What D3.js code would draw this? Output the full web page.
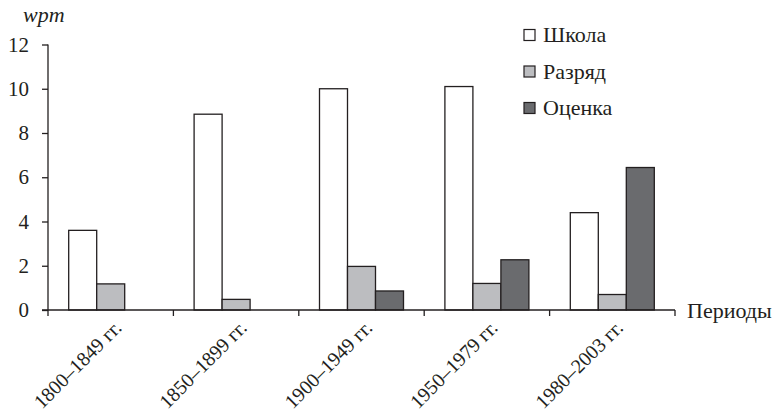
<!DOCTYPE html>
<html><head><meta charset="utf-8">
<script src="https://cdn.jsdelivr.net/npm/d3@7"></script>
<style>body{margin:0;background:#fff}svg{display:block}</style>
</head><body>
<svg id="c" width="778" height="417"></svg>
<script>
const categories = ["1800–1849 гг.", "1850–1899 гг.", "1900–1949 гг.", "1950–1979 гг.", "1980–2003 гг."];
const seriesNames = ["Школа", "Разряд", "Оценка"];
const shkola = [3.6, 8.85, 10.0, 10.1, 4.4];
const razryad = [1.18, 0.48, 1.97, 1.2, 0.7];
const otsenka = [0, 0, 0.86, 2.27, 6.44];
const yTicks = [0, 2, 4, 6, 8, 10, 12];
const colors = ["#ffffff", "#bcbdc0", "#6a6b6e"];

const FONT = '"Liberation Serif"';
const INK = "#231f20";
const series = [shkola, razryad, otsenka];
const svg = d3.select("#c");
const L = 48, R = 675, T = 44.5, B = 310;
const x = d3.scaleBand().domain(categories).range([L, R]).paddingInner(0).paddingOuter(0);
const y = d3.scaleLinear().domain([0, 12]).range([B, T]);
const bw = 28;
const inner = d3.scaleBand().domain(seriesNames).range([0, bw * 3]);
const off = (x.bandwidth() - bw * 3) / 2;

// bars
series.forEach((vals, si) => {
  svg.append("g").selectAll("rect").data(vals.map((v, i) => ({v, c: categories[i]})).filter(d => d.v > 0))
    .join("rect")
    .attr("x", d => x(d.c) + off + inner(seriesNames[si]))
    .attr("width", inner.bandwidth())
    .attr("y", d => y(d.v))
    .attr("height", d => B - y(d.v))
    .attr("fill", colors[si])
    .attr("stroke", INK)
    .attr("stroke-width", 1.3);
});

// y axis
const ya = svg.append("g").attr("transform", `translate(${L},0)`)
  .call(d3.axisLeft(y).tickValues(yTicks).tickSize(6).tickPadding(13).tickFormat(d3.format("d")));
ya.attr("font-family", FONT).attr("font-size", 21);
ya.select(".domain").attr("d", `M0,${T}V${B}`).attr("stroke", INK).attr("stroke-width", 1.3);
ya.selectAll(".tick line").attr("stroke", INK).attr("stroke-width", 1.3);
ya.selectAll(".tick text").attr("fill", INK).attr("font-family", FONT).attr("font-size", 21);

// x axis
const xa = svg.append("g");
xa.append("line").attr("x1", L - 6).attr("x2", R).attr("y1", B).attr("y2", B).attr("stroke", INK).attr("stroke-width", 1.3);
const bounds = categories.map(c => x(c)).concat([R]);
xa.selectAll("line.t").data(bounds).join("line").attr("class", "t")
  .attr("x1", d => d).attr("x2", d => d).attr("y1", B).attr("y2", B + 6)
  .attr("stroke", INK).attr("stroke-width", 1.3);
xa.selectAll("text").data(categories).join("text")
  .attr("transform", d => `translate(${x(d) + x.bandwidth() / 2 + 12},${B + 19}) rotate(-45)`)
  .attr("text-anchor", "end").attr("font-family", FONT).attr("font-size", 20).attr("fill", INK).text(d => d);

// axis titles
svg.append("text").attr("x", 23).attr("y", 22).attr("font-family", FONT).attr("font-size", 22)
  .attr("font-style", "italic").attr("fill", INK).text("wpm");
svg.append("text").attr("x", 687).attr("y", 318).attr("font-family", FONT).attr("font-size", 22)
  .attr("fill", INK).text("Периоды");

// legend
const lg = svg.append("g").selectAll("g").data(seriesNames).join("g")
  .attr("transform", (d, i) => `translate(524,${29.5 + i * 36.5})`);
lg.append("rect").attr("width", 11).attr("height", 11)
  .attr("fill", (d, i) => colors[i]).attr("stroke", INK).attr("stroke-width", 1.2);
lg.append("text").attr("x", 19).attr("y", 12.5).attr("font-family", FONT).attr("font-size", 22)
  .attr("fill", INK).text(d => d);
</script>
</body></html>
